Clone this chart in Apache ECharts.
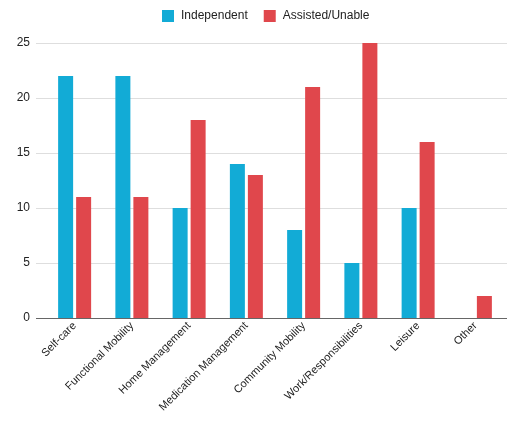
<!DOCTYPE html>
<html>
<head>
<meta charset="utf-8">
<script src="https://cdn.jsdelivr.net/npm/echarts@6/dist/echarts.min.js"></script>
<style>
  html, body { margin: 0; padding: 0; background: #fff; }
  #chart { width: 507px; height: 423px; }
</style>
</head>
<body>
<div id="chart"></div>
<script>
const categories = ['Self-care', 'Functional Mobility', 'Home Management', 'Medication Management',
  'Community Mobility', 'Work/Responsibilities', 'Leisure', 'Other'];
const independent = [22, 22, 10, 14, 8, 5, 10, 0];
const assisted = [11, 11, 18, 13, 21, 25, 16, 2];
const yTicks = { min: 0, max: 25, interval: 5 };

const FONT = '"Liberation Sans", Arial, sans-serif';
const chart = echarts.init(document.getElementById('chart'), null, { renderer: 'canvas' });

chart.setOption({
  animation: false,
  textStyle: { fontFamily: FONT },
  legend: {
    top: 5,
    left: 157,
    icon: 'rect',
    itemWidth: 12,
    itemHeight: 12,
    itemGap: 16,
    textStyle: { fontSize: 12, color: '#222', fontFamily: FONT, padding: [0, 0, 0, 2] },
    data: ['Independent', 'Assisted/Unable']
  },
  grid: [
    // background grid: value axis with its gridlines
    { left: 36, right: 0, top: 43, bottom: 105, containLabel: false },
    // bar grid
    { left: 46, right: 3, top: 43, bottom: 105, containLabel: false }
  ],
  xAxis: [
    { gridIndex: 0, type: 'category', data: categories, show: false },
    {
      gridIndex: 1,
      type: 'category',
      data: categories,
      axisLine: { show: false },
      axisTick: { show: false },
      axisLabel: {
        rotate: 45,
        interval: 0,
        fontSize: 11,
        color: '#222',
        margin: 6,
        fontFamily: FONT
      }
    }
  ],
  yAxis: [
    {
      gridIndex: 0,
      type: 'value',
      min: yTicks.min,
      max: yTicks.max,
      interval: yTicks.interval,
      axisLine: { show: false },
      axisTick: { show: false },
      splitLine: { lineStyle: { color: '#dedede', width: 1 } },
      axisLabel: { fontSize: 12, color: '#222', margin: 6, fontFamily: FONT }
    },
    {
      gridIndex: 1,
      type: 'value',
      min: yTicks.min,
      max: yTicks.max,
      interval: yTicks.interval,
      show: false
    }
  ],
  series: [
    {
      // zero baseline drawn across the full width
      type: 'line',
      xAxisIndex: 0,
      yAxisIndex: 0,
      data: [],
      markLine: {
        silent: true,
        symbol: 'none',
        label: { show: false },
        lineStyle: { color: '#666', width: 1, type: 'solid' },
        data: [{ yAxis: 0 }]
      }
    },
    {
      name: 'Independent',
      type: 'bar',
      xAxisIndex: 1,
      yAxisIndex: 1,
      data: independent,
      barWidth: 15,
      barGap: '20%',
      itemStyle: { color: '#12abd6' }
    },
    {
      name: 'Assisted/Unable',
      type: 'bar',
      xAxisIndex: 1,
      yAxisIndex: 1,
      data: assisted,
      barWidth: 15,
      barGap: '20%',
      itemStyle: { color: '#e0474c' }
    }
  ]
});
</script>
</body>
</html>
